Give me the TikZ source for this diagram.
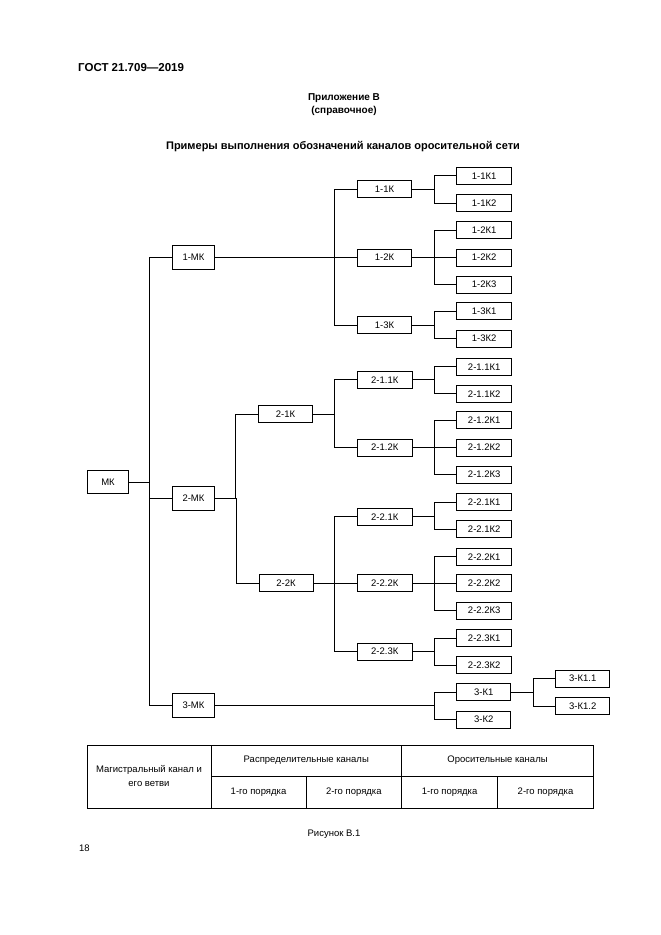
\documentclass[tikz,border=0pt]{standalone}
\usepackage{fontspec}
\setmainfont{Liberation Sans}
\tikzset{
  chan/.style={draw,line width=0.7pt,minimum width=55pt,minimum height=17pt,inner sep=0pt,font=\fontsize{9.5}{11}\selectfont},
  main/.style={chan,minimum width=42pt,minimum height=24pt},
  link/.style={line width=0.7pt},
  txt/.style={font=\fontsize{9.5}{11}\selectfont,inner sep=0pt}
}
\begin{document}
\begin{tikzpicture}[x=1pt,y=-1pt]
  \useasboundingbox (0,0) rectangle (661,935);
  % heading
  \node[anchor=west,inner sep=0pt,font=\bfseries\fontsize{11.5}{13}\selectfont] (gost) at (78,68) {ГОСТ 21.709—2019};
  \node[inner sep=0pt,font=\bfseries\fontsize{10}{12}\selectfont] (app) at (344,98.5) {Приложение В};
  \node[inner sep=0pt,font=\bfseries\fontsize{10}{12}\selectfont] (ref) at (344,111) {(справочное)};
  \node[inner sep=0pt,font=\bfseries\fontsize{11}{13}\selectfont] (title) at (343,147) {Примеры выполнения обозначений каналов оросительной сети};
  % main canal and branches
  \node[main,minimum width=41pt,minimum height=23pt] (mk) at (108,482) {МК};
  \node[main] (m1) at (193.5,257.5) {1-МК};
  \node[main] (m2) at (193.5,498.5) {2-МК};
  \node[main] (m3) at (193.5,705.5) {3-МК};
  \node[chan,minimum width=54pt] (k11) at (384.5,189) {1-1К};
  \node[chan,minimum width=54pt] (k12) at (384.5,257.5) {1-2К};
  \node[chan,minimum width=54pt] (k13) at (384.5,325) {1-3К};
  \node[chan,minimum width=54pt] (k21) at (285.5,414) {2-1К};
  \node[chan,minimum width=54pt] (k22) at (286,583.3) {2-2К};
  \node[chan] (k211) at (384.8,379.7) {2-1.1К};
  \node[chan] (k212) at (384.8,447.5) {2-1.2К};
  \node[chan] (k221) at (384.8,516.7) {2-2.1К};
  \node[chan] (k222) at (384.8,583.3) {2-2.2К};
  \node[chan] (k223) at (384.8,651.7) {2-2.3К};
  \node[chan,minimum width=54pt] (k31) at (483.8,692) {3-К1};
  \node[chan,minimum width=54pt] (k32) at (483.8,719.7) {3-К2};
  % irrigation canals
  \foreach \n/\t/\y in {a1/1-1К1/175.8, a2/1-1К2/203, a3/1-2К1/230.3, a4/1-2К2/257.5,
      a5/1-2К3/284.7, a6/1-3К1/311.3, a7/1-3К2/338.7, b1/2-1.1К1/366.7, b2/2-1.1К2/393.7,
      b3/2-1.2К1/420.3, b4/2-1.2К2/447.5, b5/2-1.2К3/474.7, c1/2-2.1К1/502.3, c2/2-2.1К2/529,
      c3/2-2.2К1/556.7, c4/2-2.2К2/583.3, c5/2-2.2К3/610.7, c6/2-2.3К1/638.3, c7/2-2.3К2/665.3}
    \node[chan] (\n) at (484.2,\y) {\t};
  \node[chan,minimum width=54pt] (d1) at (582.8,678.7) {3-К1.1};
  \node[chan,minimum width=54pt] (d2) at (582.8,706) {3-К1.2};
  % connectors
  \foreach \p/\c in {mk/m1, mk/m2, mk/m3, m1/k11, m1/k12, m1/k13, m2/k21, m2/k22,
      m3/k31, m3/k32, k21/k211, k21/k212, k22/k221, k22/k222, k22/k223,
      k11/a1, k11/a2, k12/a3, k12/a4, k12/a5, k13/a6, k13/a7,
      k211/b1, k211/b2, k212/b3, k212/b4, k212/b5,
      k221/c1, k221/c2, k222/c3, k222/c4, k222/c5, k223/c6, k223/c7, k31/d1, k31/d2}
    \draw[link] (\p.east) -| ([xshift=-22.5pt]\c.west) -- (\c.west);
  % legend table
  \draw[link] (87.5,745) rectangle (593.5,808.5);
  \draw[link] (211,745) -- (211,808.5);
  \draw[link] (401.7,745) -- (401.7,808.5);
  \draw[link] (211,776.7) -- (593.5,776.7);
  \draw[link] (306,776.7) -- (306,808.5);
  \draw[link] (497.5,776.7) -- (497.5,808.5);
  \node[txt] (t1) at (149,770) {Магистральный канал и};
  \node[txt] (t2) at (149,783.5) {его ветви};
  \node[txt] (t3) at (306.3,760) {Распределительные каналы};
  \node[txt] (t4) at (497.5,760) {Оросительные каналы};
  \node[txt] (t5) at (258.5,792.5) {1-го порядка};
  \node[txt] (t6) at (353.8,792.5) {2-го порядка};
  \node[txt] (t7) at (449.6,792.5) {1-го порядка};
  \node[txt] (t8) at (545.5,792.5) {2-го порядка};
  % caption
  \node[txt] (fig) at (334,834.5) {Рисунок В.1};
  \node[txt,anchor=west] (page) at (79,848.5) {18};
\end{tikzpicture}
\end{document}
